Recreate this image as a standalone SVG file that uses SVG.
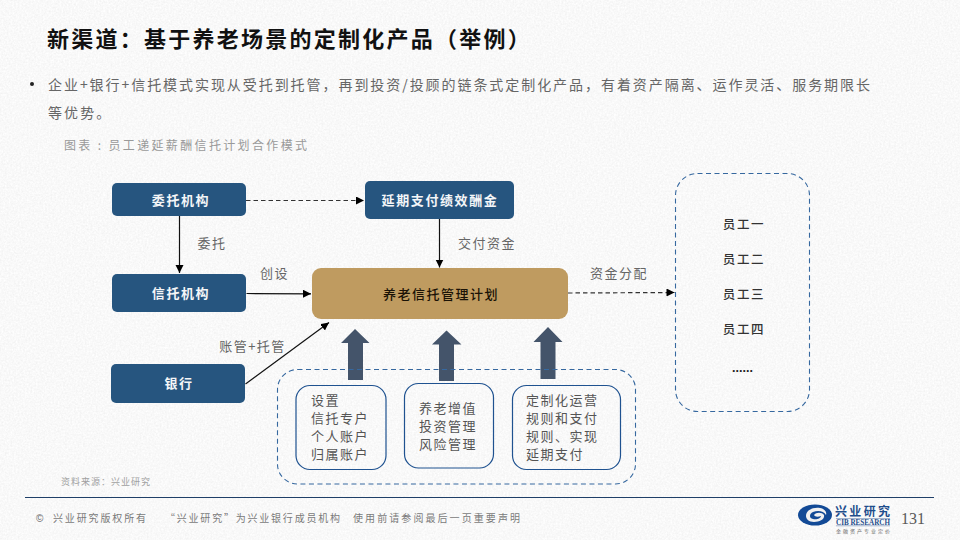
<svg xmlns="http://www.w3.org/2000/svg" width="960" height="540" viewBox="0 0 960 540">
<style>
text{font-family:"Noto Sans CJK SC","Noto Sans",sans-serif}
.c{text-anchor:middle}
.w{fill:#f4f6f8;font-size:13px;font-weight:700;letter-spacing:1.6px}
.b{fill:#26557f;stroke:none}
.lab{fill:#666;font-size:13px;letter-spacing:1.5px}
.dk{fill:#555;font-size:13px;letter-spacing:1.5px}
.box{fill:none;stroke:#1f5290;stroke-width:1.2}
.dash{fill:none;stroke:#36689f;stroke-width:1.1;stroke-dasharray:5 3.5}
.ln{fill:none;stroke:#111;stroke-width:1.2}
.ld{fill:none;stroke:#333;stroke-width:1.2;stroke-dasharray:4.5 3}
.big{fill:#44546a}
</style>
<defs>
<filter id="paper" x="0" y="0" width="100%" height="100%">
<feTurbulence type="fractalNoise" baseFrequency="0.55" numOctaves="3" seed="4"/>
<feColorMatrix type="matrix" values="0 0 0 0.16 0.865  0 0 0 0.16 0.865  0 0 0 0.16 0.865  0 0 0 0 1"/>
</filter>
<marker id="ah" markerUnits="userSpaceOnUse" markerWidth="9" markerHeight="9" refX="8" refY="4" orient="auto"><path d="M0 0L8 4L0 8Z" fill="#000"/></marker>
</defs>
<rect id="bg" width="960" height="540" fill="#f1f1f1" filter="url(#paper)"/>

<g id="header">
<text x="47" y="47" font-size="22" font-weight="700" fill="#111" letter-spacing="2.25">新渠道&#xFF1A;基于养老场景的定制化产品&#xFF08;举例&#xFF09;</text>
<circle cx="32" cy="84" r="2" fill="#222"/>
<text x="48" y="90" font-size="14" fill="#666" textLength="822" lengthAdjust="spacing">企业+银行+信托模式实现从受托到托管&#xFF0C;再到投资/投顾的链条式定制化产品&#xFF0C;有着资产隔离、运作灵活、服务期限长</text>
<text x="48" y="118" font-size="14" fill="#666" letter-spacing="2.1">等优势。</text>
<text x="64" y="150" font-size="12" fill="#999" textLength="243" lengthAdjust="spacing">图表 : 员工递延薪酬信托计划合作模式</text>
</g>

<g id="connectors">
<path class="ld" d="M246 200.5L364 200.5" marker-end="url(#ah)"/>
<path class="ln" d="M179.500 216L179.500 273" marker-end="url(#ah)"/>
<path class="ln" d="M246.500 293.500L311 293.800" marker-end="url(#ah)"/>
<path class="ln" d="M439.500 219L439.500 267.500" marker-end="url(#ah)"/>
<path class="ld" d="M568 293L674.500 292.500" marker-end="url(#ah)"/>
<path class="ln" d="M245.500 384L329 322.500" marker-end="url(#ah)"/>
<path class="big" d="M355 329L369.500 343H363V380H348V343H341Z"/>
<path class="big" d="M446.500 330.500L461.500 344.500H454V381H439V344.500H432Z"/>
<path class="big" d="M548 327L562.500 342H555.500V379H540.500V342H533.500Z"/>
</g>

<g id="labels">
<text class="lab c" x="212" y="248">委托</text>
<text class="lab c" x="274.500" y="278">创设</text>
<text class="lab c" x="487" y="248">交付资金</text>
<text class="lab c" x="619" y="278">资金分配</text>
<text class="lab c" x="252.500" y="351" letter-spacing="1">账管+托管</text>
</g>

<g id="node-weituo"><rect class="b" x="112" y="183" width="134" height="33" rx="5"/><text class="w c" x="181" y="204.500">委托机构</text></g>
<g id="node-xintuo"><rect class="b" x="112" y="274" width="134" height="38" rx="5"/><text class="w c" x="181" y="297.500">信托机构</text></g>
<g id="node-yinhang"><rect class="b" x="111" y="364" width="134" height="39" rx="5"/><text class="w c" x="179" y="388">银行</text></g>
<g id="node-yanqi"><rect class="b" x="365" y="181" width="149" height="38" rx="5"/><text class="w c" x="440" y="205">延期支付绩效酬金</text></g>
<g id="node-plan"><rect x="312" y="268" width="256" height="51" rx="9" fill="#bf9b60"/><text class="c" x="441" y="298.500" font-size="13" font-weight="500" fill="#1a1206" letter-spacing="1.5">养老信托管理计划</text></g>

<g id="group-support"><rect class="dash" x="277.500" y="369.500" width="358" height="114.500" rx="20"/></g>
<g id="node-account"><rect class="box" x="296" y="385.500" width="90" height="84" rx="14"/>
<text class="dk" x="311" y="405">设置</text><text class="dk" x="311" y="423">信托专户</text><text class="dk" x="311" y="441">个人账户</text><text class="dk" x="311" y="459">归属账户</text></g>
<g id="node-invest"><rect class="box" x="404.500" y="383.500" width="89" height="84.500" rx="14"/>
<text class="dk" x="419" y="413">养老增值</text><text class="dk" x="419" y="431">投资管理</text><text class="dk" x="419" y="449">风险管理</text></g>
<g id="node-custom"><rect class="box" x="512.500" y="385.500" width="108" height="84" rx="14"/>
<text class="dk" x="526" y="405">定制化运营</text><text class="dk" x="526" y="423">规则和支付</text><text class="dk" x="526" y="441">规则、实现</text><text class="dk" x="526" y="459">延期支付</text></g>

<g id="node-staff"><rect class="dash" x="675.500" y="173.500" width="134" height="238" rx="22"/>
<text class="c" x="744" y="228.500" font-size="12.500" font-weight="500" fill="#333" letter-spacing="1.6">员工一</text>
<text class="c" x="744" y="264" font-size="12.500" font-weight="500" fill="#333" letter-spacing="1.6">员工二</text>
<text class="c" x="744" y="299" font-size="12.500" font-weight="500" fill="#333" letter-spacing="1.6">员工三</text>
<text class="c" x="744" y="334" font-size="12.500" font-weight="500" fill="#333" letter-spacing="1.6">员工四</text>
<text class="c" x="742.500" y="372" font-size="12.500" font-weight="700" fill="#222" style="font-family:'Liberation Sans',sans-serif">......</text></g>

<g id="footer">
<text x="61" y="484.500" font-size="9" fill="#a0a0a0" textLength="89" lengthAdjust="spacing">资料来源&#xFF1A;兴业研究</text>
<path d="M25 497.500H934" stroke="#1f3f68" stroke-width="1.2"/>
<text x="36" y="522" font-size="10" fill="#666" style="font-family:'Liberation Sans',sans-serif">©</text>
<text x="53" y="522" font-size="10" fill="#7a7a7a" textLength="93" lengthAdjust="spacing">兴业研究版权所有</text>
<text x="165" y="522" font-size="10" fill="#7a7a7a" textLength="175" lengthAdjust="spacing">“兴业研究”为兴业银行成员机构</text>
<text x="353" y="522" font-size="10" fill="#7a7a7a" textLength="167" lengthAdjust="spacing">使用前请参阅最后一页重要声明</text>
</g>

<g id="logo">
<ellipse cx="815" cy="515" rx="17" ry="10.500" fill="#134a96"/>
<path d="M806 516C806 510 813 507 820 508C825 509 827 512 826 515C824 511 818 510 813 512C809 514 809 518 813 519C817 520 821 518 821 516C818 517 815 517 814 515C816 512 822 512 824 515C825 519 820 522 814 522C809 522 806 519 806 516Z" fill="#f1f1f1"/>
<text x="835" y="516" font-size="12" font-weight="700" fill="#1f4e8c" textLength="55" lengthAdjust="spacing">兴业研究</text>
<path d="M836 518.500H890" stroke="#7d97bb" stroke-width=".7"/>
<text x="836" y="525" font-size="7.500" font-weight="700" fill="#1f4e8c" textLength="54" lengthAdjust="spacingAndGlyphs" style="font-family:'Liberation Serif',serif">CIB RESEARCH</text>
<path d="M836 525.800H890" stroke="#7d97bb" stroke-width=".7"/>
<text x="836" y="533" font-size="5" fill="#666" textLength="54" lengthAdjust="spacing">金融资产专业定价</text>
<text x="901" y="524" font-size="16" fill="#595959" style="font-family:'Liberation Serif',serif">131</text>
</g>
</svg>
